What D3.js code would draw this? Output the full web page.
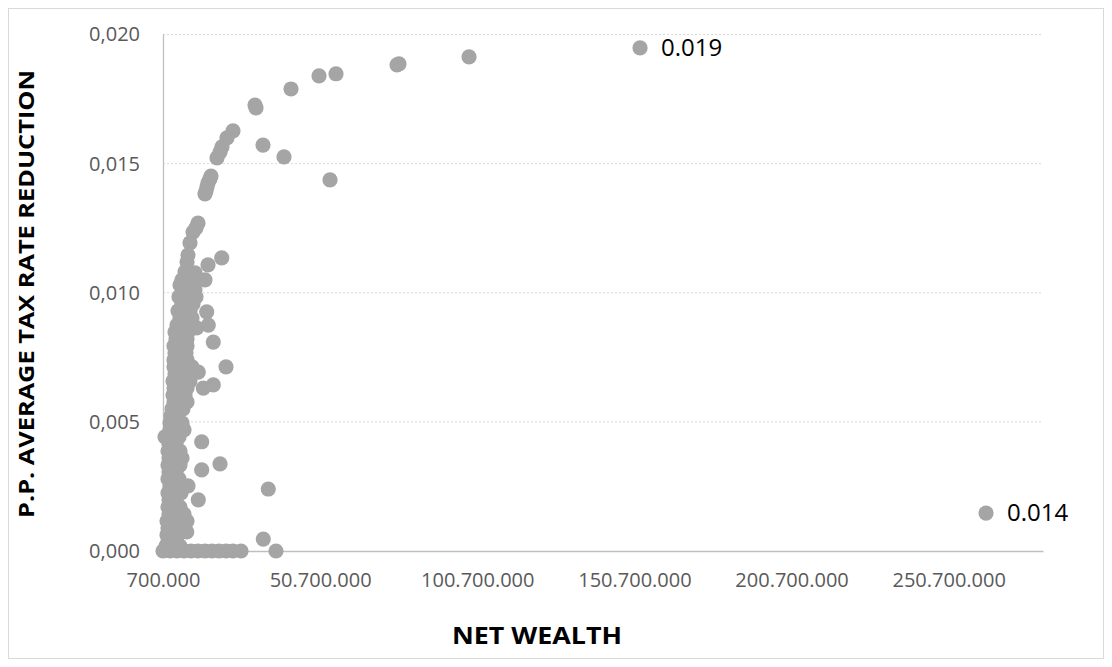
<!DOCTYPE html>
<html>
<head>
<meta charset="utf-8">
<script src="https://cdn.jsdelivr.net/npm/d3@7"></script>
<style>
  body { margin: 0; background: #fff; }
  svg { display: block; }
</style>
</head>
<body>
<div id="scatter"></div>
<script>
// net wealth (millions of euros), p.p. average tax rate reduction
var households = [
  // upper curve + outliers
  [98.07, 0.01913], [75.79, 0.01886], [75.16, 0.01882], [55.75, 0.01848], [50.34, 0.01840],
  [41.43, 0.01789], [29.97, 0.01727], [30.29, 0.01716], [22.97, 0.01627], [21.06, 0.01600],
  [19.47, 0.01565], [18.84, 0.01545], [17.88, 0.01522], [15.97, 0.01452], [15.65, 0.01441],
  [15.02, 0.01425], [14.70, 0.01410], [14.38, 0.01394], [14.06, 0.01383], [32.52, 0.01572],
  [39.20, 0.01526], [53.84, 0.01437],
  // dense column
  [11.84, 0.01270], [11.20, 0.01251], [10.25, 0.01235], [9.29, 0.01193], [8.65, 0.01146],
  [8.34, 0.01119], [19.38, 0.01135], [15.02, 0.01108], [7.70, 0.01081], [10.88, 0.01077],
  [6.75, 0.01050], [14.06, 0.01050], [9.29, 0.01057],
  [6.11, 0.01030], [8.02, 0.01030], [9.93, 0.01030],
  [7.06, 0.01011], [8.97, 0.01011], [10.88, 0.01011],
  [5.79, 0.00984], [7.70, 0.00984], [9.61, 0.00984], [11.20, 0.00984],
  [6.75, 0.00957], [8.65, 0.00957], [10.25, 0.00957],
  [5.47, 0.00930], [7.38, 0.00930], [9.29, 0.00930], [14.60, 0.00926],
  [6.11, 0.00902], [8.02, 0.00902], [9.93, 0.00902],
  [5.15, 0.00875], [7.06, 0.00875], [8.97, 0.00875], [15.11, 0.00875], [11.42, 0.00864],
  [4.52, 0.00848], [6.43, 0.00848], [8.65, 0.00848],
  [4.84, 0.00821], [6.75, 0.00821], [8.34, 0.00821], [16.70, 0.00809],
  [4.20, 0.00794], [6.11, 0.00794], [8.34, 0.00794],
  [4.52, 0.00767], [6.43, 0.00767], [8.02, 0.00767],
  [4.20, 0.00740], [6.11, 0.00740], [8.34, 0.00740],
  [4.20, 0.00713], [6.11, 0.00713], [8.02, 0.00713], [9.93, 0.00713], [20.75, 0.00713],
  [11.93, 0.00693],
  [4.52, 0.00686], [6.43, 0.00686], [8.34, 0.00686],
  [3.88, 0.00658], [5.79, 0.00658], [7.38, 0.00658], [9.29, 0.00658],
  [16.70, 0.00643],
  [4.20, 0.00631], [6.11, 0.00631], [8.34, 0.00631], [13.52, 0.00631],
  [3.88, 0.00604], [5.79, 0.00604], [7.70, 0.00604],
  [4.20, 0.00577], [6.11, 0.00577], [8.34, 0.00577],
  [3.56, 0.00550], [5.47, 0.00550], [7.06, 0.00550],
  [3.25, 0.00523], [5.15, 0.00523],
  [2.93, 0.00496], [4.84, 0.00496], [6.75, 0.00496],
  [2.93, 0.00469], [5.15, 0.00469], [7.38, 0.00469],
  [1.34, 0.00442], [3.56, 0.00442], [5.79, 0.00442], [13.01, 0.00423],
  [2.61, 0.00414], [4.84, 0.00414],
  [2.29, 0.00387], [4.20, 0.00387], [6.11, 0.00387],
  [2.61, 0.00360], [4.84, 0.00360], [6.75, 0.00360], [18.84, 0.00337],
  [2.29, 0.00333], [4.20, 0.00333], [6.11, 0.00333], [13.01, 0.00314],
  [2.61, 0.00306], [4.84, 0.00306],
  [2.29, 0.00279], [3.88, 0.00279], [5.79, 0.00279],
  [2.93, 0.00252], [5.47, 0.00252], [8.65, 0.00252], [34.20, 0.00240],
  [2.29, 0.00225], [4.20, 0.00225], [6.43, 0.00225],
  [2.61, 0.00198], [4.84, 0.00198], [11.93, 0.00198],
  [2.29, 0.00170], [3.88, 0.00170], [6.11, 0.00170],
  [2.61, 0.00143], [5.15, 0.00143], [7.38, 0.00143],
  [1.97, 0.00116], [3.56, 0.00116], [8.34, 0.00116],
  [2.29, 0.00089], [4.52, 0.00089], [6.75, 0.00089], [8.24, 0.00074],
  [1.97, 0.00062], [3.25, 0.00062], [5.47, 0.00062], [32.61, 0.00046],
  [2.29, 0.00035], [4.52, 0.00035],
  [1.65, 0.00019], [3.56, 0.00019], [6.11, 0.00019],
  // zero row
  [0.70, 0], [2.93, 0], [5.15, 0], [7.38, 0], [9.61, 0], [11.84, 0], [14.06, 0],
  [16.29, 0], [18.52, 0], [20.75, 0], [22.97, 0], [25.52, 0], [36.65, 0]
];

// points with data labels
var labelled = [[152.48, 0.01948, "0.019"], [262.57, 0.00147, "0.014"]];

var xTicks = [700000, 50700000, 100700000, 150700000, 200700000, 250700000];
var yTicks = [0, 0.005, 0.010, 0.015, 0.020];

var svgWidth = 1112;
var svgHeight = 667;
var margin = { top: 34.5, right: 69, bottom: 116, left: 163 };
var width = svgWidth - margin.left - margin.right;
var height = svgHeight - margin.top - margin.bottom;

var locale = d3.formatLocale({ decimal: ",", thousands: ".", grouping: [3], currency: ["", "€"] });

var svg = d3.select("#scatter")
  .append("svg")
  .attr("width", svgWidth)
  .attr("height", svgHeight);

// outer frame
svg.append("rect")
  .attr("x", 8.5).attr("y", 8.5)
  .attr("width", 1095).attr("height", 650)
  .attr("fill", "none")
  .attr("stroke", "#d9d9d9");

var chartGroup = svg.append("g")
  .attr("transform", `translate(${margin.left}, ${margin.top})`);

var xScale = d3.scaleLinear().domain([700000, 280700000]).range([0, width]);
var yScale = d3.scaleLinear().domain([0, 0.020]).range([height, 0]);

// gridlines
chartGroup.selectAll(".grid")
  .data(yTicks.filter(d => d > 0))
  .enter()
  .append("line")
  .attr("x1", 0).attr("x2", width)
  .attr("y1", d => yScale(d)).attr("y2", d => yScale(d))
  .attr("stroke", "#d9d9d9")
  .attr("stroke-dasharray", "2,2");

// axes
var bottomAxis = d3.axisBottom(xScale).tickValues(xTicks).tickSize(0).tickPadding(22)
  .tickFormat(locale.format(",.0f"));
var leftAxis = d3.axisLeft(yScale).tickValues(yTicks).tickSize(0).tickPadding(23)
  .tickFormat(locale.format(".3f"));

var xg = chartGroup.append("g")
  .attr("transform", `translate(0, ${height})`)
  .call(bottomAxis);
var yg = chartGroup.append("g").call(leftAxis);

[xg, yg].forEach(function (g) {
  g.select(".domain").attr("stroke", "#bfbfbf").attr("stroke-width", 1.3);
  g.selectAll("text")
    .attr("fill", "#595959")
    .style("font-family", "'Open Sans', sans-serif")
    .style("font-size", "20px");
});
yg.select(".domain").attr("d", `M0.5,0V${height}`);

// marks
chartGroup.selectAll("circle.pt")
  .data(households.concat(labelled))
  .enter()
  .append("circle")
  .attr("class", "pt")
  .attr("cx", d => xScale(d[0] * 1e6))
  .attr("cy", d => yScale(d[1]))
  .attr("r", 7.6)
  .attr("fill", "#a5a5a5");

// data labels
chartGroup.selectAll("text.lbl")
  .data(labelled)
  .enter()
  .append("text")
  .attr("class", "lbl")
  .attr("x", d => xScale(d[0] * 1e6) + 21)
  .attr("y", d => yScale(d[1]))
  .attr("dy", "0.35em")
  .style("font-family", "'Open Sans', sans-serif")
  .style("font-size", "24px")
  .attr("fill", "#000")
  .text(d => d[2]);

// axis titles
svg.append("text")
  .attr("transform", "translate(34, 294) rotate(-90)")
  .attr("text-anchor", "middle")
  .attr("textLength", 448)
  .attr("lengthAdjust", "spacingAndGlyphs")
  .style("font-family", "'Open Sans', sans-serif")
  .style("font-weight", "bold")
  .style("font-size", "21px")
  .attr("fill", "#000")
  .text("P.P. AVERAGE TAX RATE REDUCTION");

svg.append("text")
  .attr("x", 537)
  .attr("y", 644)
  .attr("text-anchor", "middle")
  .attr("textLength", 170)
  .attr("lengthAdjust", "spacingAndGlyphs")
  .style("font-family", "'Open Sans', sans-serif")
  .style("font-weight", "bold")
  .style("font-size", "23px")
  .attr("fill", "#000")
  .text("NET WEALTH");
</script>
</body>
</html>
